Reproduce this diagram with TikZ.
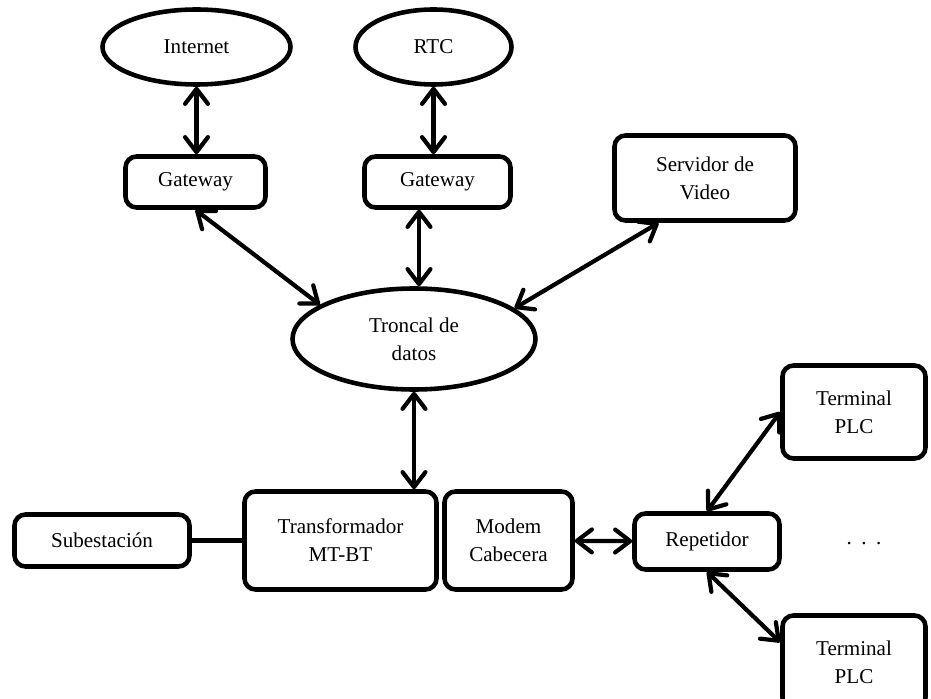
\documentclass[tikz,border=0pt]{standalone}
\usepackage{fontspec}
\setmainfont{Liberation Serif}
\usetikzlibrary{shapes.geometric,arrows.meta}

\begin{document}
\begin{tikzpicture}[
  every node/.style={font=\fontsize{12}{16}\selectfont,align=center,inner sep=0pt},
  box/.style={draw,line width=2.6pt,rounded corners=0.22cm},
  oval/.style={draw,ellipse,line width=2.6pt},
  link/.style={line width=2.4pt,{Straight Barb[length=8.5pt,width=13pt,round]}-{Straight Barb[length=8.5pt,width=13pt,round]}}
]
\useasboundingbox (0,0) rectangle (18.62,-13.98);

\node[oval,minimum width=3.76cm,minimum height=1.5cm] (internet) at (3.93,-0.94) {Internet};
\node[oval,minimum width=3.12cm,minimum height=1.5cm] (rtc) at (8.67,-0.94) {RTC};

\node[box,minimum width=2.8cm,minimum height=1.02cm] (gw1) at (3.91,-3.64) {Gateway};
\node[box,minimum width=2.92cm,minimum height=1.02cm] (gw2) at (8.75,-3.64) {Gateway};
\node[box,minimum width=3.62cm,minimum height=1.7cm] (servidor) at (14.10,-3.56) {Servidor de\\Video};

\node[oval,minimum width=4.86cm,minimum height=2.02cm] (troncal) at (8.28,-6.78) {Troncal de\\datos};

\node[box,minimum width=3.5cm,minimum height=1.04cm] (sub) at (2.04,-10.81) {Subestación};
\node[box,minimum width=3.84cm,minimum height=1.96cm] (trafo) at (6.81,-10.81) {Transformador\\MT-BT};
\node[box,minimum width=2.56cm,minimum height=1.96cm] (modem) at (10.17,-10.81) {Modem\\Cabecera};
\node[box,minimum width=2.9cm,minimum height=1.12cm] (rep) at (14.14,-10.83) {Repetidor};

\node[box,minimum width=2.86cm,minimum height=1.86cm] (term1) at (17.08,-8.24) {Terminal\\PLC};
\node[box,minimum width=2.86cm,minimum height=1.86cm] (term2) at (17.08,-13.24) {Terminal\\PLC};
\node (more) at (17.28,-10.88) {.\hspace{0.45em}.\hspace{0.45em}.};

% enlaces
\draw[link] (internet.south) -- (internet.south |- gw1.north);
\draw[link] (rtc.south) -- (rtc.south |- gw2.north);
\draw[link] (gw1.south) -- (troncal.160);
\draw[link] ([xshift=0.1cm]troncal.north |- gw2.south) -- ([xshift=0.1cm]troncal.north);
\draw[link] (servidor.224) -- (troncal.17);
\draw[link] (troncal.south) -- (troncal.south |- trafo.north);

\draw[line width=2.3pt] (sub) -- (trafo);
\draw[link] (modem) -- (rep);
\draw[link] (rep.north) -- (term1.west);
\draw[link] (rep.south) -- (term2.165);
\end{tikzpicture}
\end{document}
